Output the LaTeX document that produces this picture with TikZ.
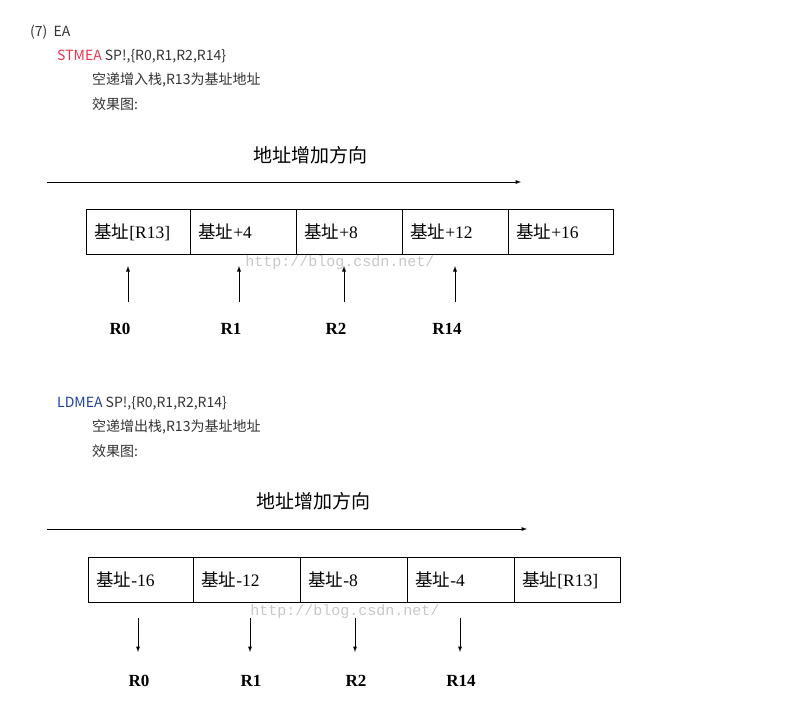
\documentclass[tikz,border=0pt]{standalone}
\usepackage{fontspec}
\setmainfont{Liberation Serif}
\newfontfamily\cjk{Noto Sans CJK SC}
\newfontfamily\wm{Liberation Mono}
\begin{document}
\begin{tikzpicture}[x=1pt,y=-1pt,
  ui/.style={anchor=west,font=\cjk\fontsize{14}{16}\selectfont,text=black!80,inner sep=0},
  cell/.style={draw,line width=0.7pt,minimum height=45pt,inner xsep=8pt,inner ysep=0,anchor=north west,align=left,font=\fontsize{17.5}{20}\selectfont},
  lab/.style={font=\bfseries\fontsize{17}{20}\selectfont},
  arr/.style={-latex,line width=0.9pt},
  wmk/.style={font=\wm\fontsize{15}{16}\selectfont,text=black!22}]
\useasboundingbox (0,0) rectangle (789,727);
\node[ui] (h) at (30,32) {(7)\ \ EA};
\node[ui] (s1) at (57,56) {\textcolor[HTML]{E8334A}{STMEA} SP!,\{R0,R1,R2,R14\}};
\node[ui] (s2) at (92,80) {空递增入栈,R13为基址地址};
\node[ui] (s3) at (92,104) {效果图:};
\node[ui] (l1) at (57,403) {\textcolor[HTML]{1F3FA0}{LDMEA} SP!,\{R0,R1,R2,R14\}};
\node[ui] (l2) at (92,427) {空递增出栈,R13为基址地址};
\node[ui] (l3) at (92,451) {效果图:};
% top diagram
\node[font=\cjk\fontsize{19}{22}\selectfont] (t1) at (310,155) {地址增加方向};
\coordinate (a1) at (47,182); \coordinate (a2) at (521,182);
\draw[arr] (a1) -- (a2);
\foreach \x/\w/\t/\n in {86/104/{[R13]}/c1,190/106/+4/c2,296/106/+8/c3,402/106/+12/c4,508/105/+16/c5}
  \node[cell,minimum width=\w pt,text width=\w pt-16pt] (\n) at (\x,209) {{\cjk 基址}\t};
\node[wmk] (w1) at (340,263) {http://blog.csdn.net/};
\foreach \x/\r/\n in {128/R0/p0,239/R1/p1,344/R2/p2,455/R14/p3}{
  \coordinate (\n b) at (\x,302); \coordinate (\n t) at (\x,266);
  \draw[arr] (\n b) -- (\n t);
  \node[lab] (\n l) at (\x-8,329) {\r};}
% bottom diagram
\node[font=\cjk\fontsize{19}{22}\selectfont] (t2) at (313,501) {地址增加方向};
\coordinate (b1) at (47,529); \coordinate (b2) at (527,529);
\draw[arr] (b1) -- (b2);
\foreach \x/\w/\t/\n in {88/105/-16/d1,193/107/-12/d2,300/107/-8/d3,407/107/-4/d4,514/106/{[R13]}/d5}
  \node[cell,minimum width=\w pt,text width=\w pt-16pt] (\n) at (\x,557) {{\cjk 基址}\t};
\node[wmk] (w2) at (345,612) {http://blog.csdn.net/};
\foreach \x/\r/\n in {138/R0/q0,250/R1/q1,355/R2/q2,460/R14/q3}{
  \coordinate (\n t) at (\x,618); \coordinate (\n b) at (\x,652);
  \draw[arr] (\n t) -- (\n b);
  \node[lab] (\n l) at (\x+1,681) {\r};}
\end{tikzpicture}
\end{document}
